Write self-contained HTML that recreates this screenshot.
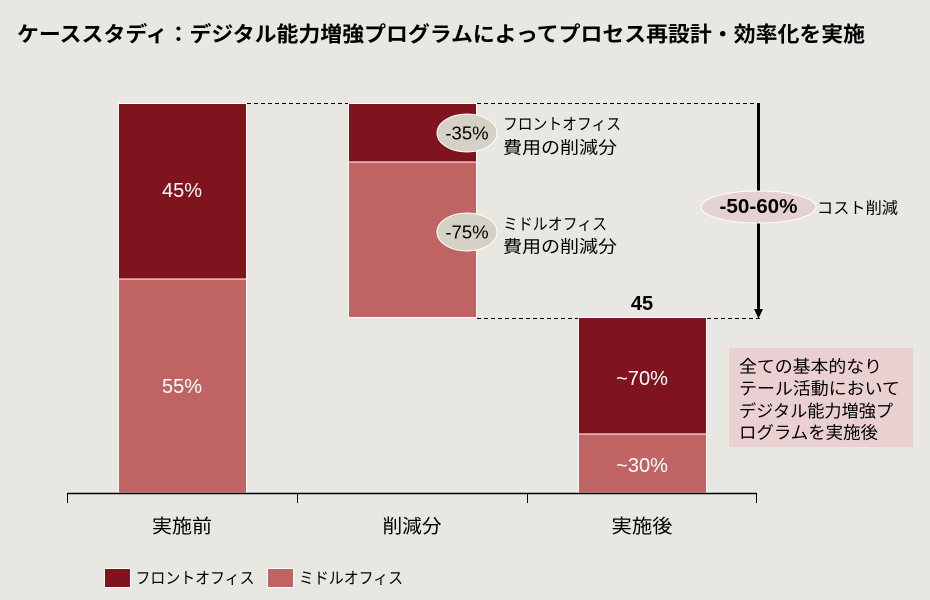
<!DOCTYPE html>
<html><head><meta charset="utf-8"><style>
html,body{margin:0;padding:0;background:#e9e7e2;}
svg{display:block;}
text{font-family:"Liberation Sans","Noto Sans CJK JP",sans-serif;}
.jp{font-family:"Liberation Sans","Noto Sans CJK JP",sans-serif;}
</style></head><body>
<svg width="930" height="600" viewBox="0 0 930 600" xmlns="http://www.w3.org/2000/svg">
<rect x="0" y="0" width="930" height="600" fill="#e9e7e2"/>
<!-- Title -->
<text x="17" y="35" dominant-baseline="central" font-size="21" font-weight="bold" fill="#000" textLength="848" lengthAdjust="spacingAndGlyphs" class="jp">ケーススタディ：デジタル能力増強プログラムによってプロセス再設計・効率化を実施</text>

<!-- Left bar -->
<rect x="118.5" y="103.5" width="128" height="175.5" fill="#7f141e" stroke="#fff" stroke-width="1"/>
<rect x="118.5" y="279" width="128" height="214" fill="#bf6463" stroke="#fff" stroke-width="1"/>
<text x="182" y="191" text-anchor="middle" dominant-baseline="central" font-size="20" fill="#fff">45%</text>
<text x="182" y="387" text-anchor="middle" dominant-baseline="central" font-size="20" fill="#fff">55%</text>

<!-- Middle bar -->
<rect x="348.5" y="103.5" width="128" height="58.5" fill="#7f141e" stroke="#fff" stroke-width="1"/>
<rect x="348.5" y="162" width="128" height="155.5" fill="#bf6463" stroke="#fff" stroke-width="1"/>

<!-- Right bar -->
<rect x="578.5" y="317.5" width="128" height="116.5" fill="#7f141e" stroke="#fff" stroke-width="1"/>
<rect x="578.5" y="434" width="128" height="59" fill="#bf6463" stroke="#fff" stroke-width="1"/>
<text x="642" y="379" text-anchor="middle" dominant-baseline="central" font-size="20" fill="#fff">~70%</text>
<text x="642" y="466" text-anchor="middle" dominant-baseline="central" font-size="20" fill="#fff">~30%</text>
<text x="642" y="304" text-anchor="middle" dominant-baseline="central" font-size="20" font-weight="bold" fill="#000">45</text>

<!-- Dashed lines -->
<line x1="247" y1="103.5" x2="348" y2="103.5" stroke="#000" stroke-width="1" stroke-dasharray="4,3"/>
<line x1="477" y1="103.5" x2="760" y2="103.5" stroke="#000" stroke-width="1" stroke-dasharray="4,3"/>
<line x1="477" y1="318.5" x2="578" y2="318.5" stroke="#000" stroke-width="1" stroke-dasharray="4,3"/>
<line x1="707" y1="318.5" x2="760" y2="318.5" stroke="#000" stroke-width="1" stroke-dasharray="4,3"/>

<!-- Arrow -->
<line x1="758.5" y1="103" x2="758.5" y2="311" stroke="#000" stroke-width="3"/>
<polygon points="754,309 763,309 758.5,318.5" fill="#000"/>

<!-- -35% / -75% ellipses -->
<ellipse cx="467" cy="133" rx="30" ry="19" fill="#d5d1c5" stroke="#fff" stroke-width="1"/>
<text x="467" y="133" text-anchor="middle" dominant-baseline="central" font-size="18.5" fill="#000">-35%</text>
<ellipse cx="467" cy="232" rx="30" ry="19" fill="#d5d1c5" stroke="#fff" stroke-width="1"/>
<text x="467" y="232" text-anchor="middle" dominant-baseline="central" font-size="18.5" fill="#000">-75%</text>

<text x="503" y="125" dominant-baseline="central" font-size="16" fill="#000" textLength="118" lengthAdjust="spacingAndGlyphs">フロントオフィス</text>
<text x="503" y="148" dominant-baseline="central" font-size="17" fill="#000" textLength="114" lengthAdjust="spacingAndGlyphs">費用の削減分</text>
<text x="503" y="225" dominant-baseline="central" font-size="16" fill="#000" textLength="104" lengthAdjust="spacingAndGlyphs">ミドルオフィス</text>
<text x="503" y="247" dominant-baseline="central" font-size="17" fill="#000" textLength="114" lengthAdjust="spacingAndGlyphs">費用の削減分</text>

<!-- -50-60% -->
<ellipse cx="758.5" cy="207" rx="57.5" ry="16" fill="#e5d0d2" stroke="#fff" stroke-width="1"/>
<text x="758.5" y="207" text-anchor="middle" dominant-baseline="central" font-size="20" font-weight="bold" fill="#000" textLength="78" lengthAdjust="spacingAndGlyphs">-50-60%</text>
<text x="817" y="209" dominant-baseline="central" font-size="16" fill="#000" textLength="81" lengthAdjust="spacingAndGlyphs">コスト削減</text>

<!-- Pink box -->
<rect x="729" y="348" width="184" height="99" fill="#ebd0d2"/>
<text x="739" y="367" dominant-baseline="central" font-size="17" fill="#000" textLength="143" lengthAdjust="spacingAndGlyphs">全ての基本的なり</text>
<text x="739" y="389" dominant-baseline="central" font-size="17" fill="#000" textLength="161" lengthAdjust="spacingAndGlyphs">テール活動において</text>
<text x="739" y="411.5" dominant-baseline="central" font-size="17" fill="#000" textLength="154" lengthAdjust="spacingAndGlyphs">デジタル能力増強プ</text>
<text x="739" y="433" dominant-baseline="central" font-size="17" fill="#000" textLength="139" lengthAdjust="spacingAndGlyphs">ログラムを実施後</text>

<!-- Axis -->
<line x1="67" y1="493.5" x2="757" y2="493.5" stroke="#000" stroke-width="1.5"/>
<line x1="67.5" y1="493" x2="67.5" y2="503" stroke="#000" stroke-width="1"/>
<line x1="297.5" y1="493" x2="297.5" y2="503" stroke="#000" stroke-width="1"/>
<line x1="527.5" y1="493" x2="527.5" y2="503" stroke="#000" stroke-width="1"/>
<line x1="756.5" y1="493" x2="756.5" y2="503" stroke="#000" stroke-width="1"/>

<text x="182" y="527" text-anchor="middle" dominant-baseline="central" font-size="19" fill="#000" textLength="60" lengthAdjust="spacingAndGlyphs">実施前</text>
<text x="412" y="527" text-anchor="middle" dominant-baseline="central" font-size="19" fill="#000" textLength="59" lengthAdjust="spacingAndGlyphs">削減分</text>
<text x="642" y="527" text-anchor="middle" dominant-baseline="central" font-size="19" fill="#000" textLength="61" lengthAdjust="spacingAndGlyphs">実施後</text>

<!-- Legend -->
<rect x="104.5" y="568.5" width="26" height="19" fill="#7f141e" stroke="#fff" stroke-width="1"/>
<text x="135.5" y="579" dominant-baseline="central" font-size="16" fill="#000" textLength="119" lengthAdjust="spacingAndGlyphs">フロントオフィス</text>
<rect x="267.5" y="568.5" width="26" height="19" fill="#bf6463" stroke="#fff" stroke-width="1"/>
<text x="299" y="579" dominant-baseline="central" font-size="16" fill="#000" textLength="104" lengthAdjust="spacingAndGlyphs">ミドルオフィス</text>
</svg>
</body></html>
